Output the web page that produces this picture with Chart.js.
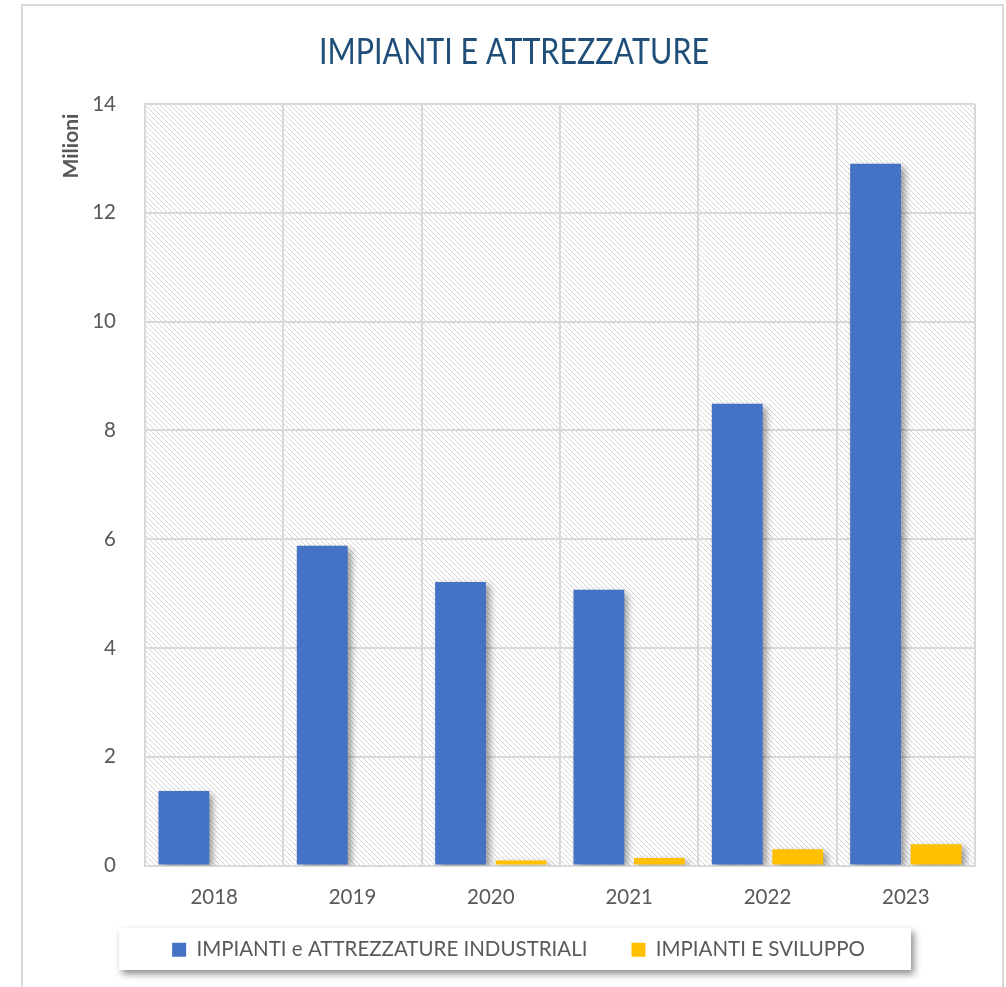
<!DOCTYPE html>
<html>
<head>
<meta charset="utf-8">
<script src="https://cdn.jsdelivr.net/npm/chart.js@4.4.1/dist/chart.umd.min.js"></script>
<style>
  html, body { margin: 0; padding: 0; background: #ffffff; }
  #wrap { position: relative; width: 1006px; height: 987px; overflow: hidden; }
  #frame { position: absolute; left: 21px; top: 4px; width: 983px; height: 1000px; border: 2px solid #d9d9d9; box-sizing: border-box; }
  #c { position: absolute; left: 0; top: 0; }
</style>
</head>
<body>
<div id="wrap">
  <div id="frame"></div>
  <canvas id="c" width="1006" height="987"></canvas>
</div>
<script>
const years = ['2018', '2019', '2020', '2021', '2022', '2023'];
const industriali = [1.37, 5.88, 5.21, 5.07, 8.49, 12.9];
const sviluppo = [0.02, 0.0, 0.09, 0.14, 0.3, 0.39];
const yTicks = [0, 2, 4, 6, 8, 10, 12, 14];
const chartTitle = 'IMPIANTI E ATTREZZATURE';
const unitLabel = 'Milioni';

const FONT = 'Lato, "Open Sans", sans-serif';
const TEXT = '#595959';

// light downward-diagonal hatch for the plot area
function makeHatch(ctx) {
  const p = document.createElement('canvas');
  p.width = 5; p.height = 5;
  const g = p.getContext('2d');
  g.fillStyle = '#ffffff';
  g.fillRect(0, 0, 5, 5);
  g.fillStyle = '#d6d6d6';
  for (let i = 0; i < 5; i++) g.fillRect(i, i, 1, 1);
  return ctx.createPattern(p, 'repeat');
}

const decor = {
  id: 'decor',
  afterLayout(chart) {
    // pull the legend row up so it sits tight under the year labels
    const lg = chart.legend;
    if (lg) { lg.top -= 15; lg.bottom -= 15; }
  },
  beforeDraw(chart) {
    const { ctx, chartArea: a } = chart;
    ctx.save();
    ctx.fillStyle = makeHatch(ctx);
    ctx.fillRect(a.left, a.top, a.right - a.left, a.bottom - a.top);
    // legend panel with soft shadow
    ctx.shadowColor = 'rgba(0,0,0,0.45)';
    ctx.shadowBlur = 7;
    ctx.shadowOffsetX = 3;
    ctx.shadowOffsetY = 4;
    ctx.fillStyle = '#ffffff';
    ctx.fillRect(119, 928, 792, 42);
    ctx.restore();

    // condensed title, centred over the chart
    ctx.save();
    ctx.translate(514, 64);
    ctx.scale(0.845, 1);
    ctx.font = '36px ' + FONT;
    ctx.fillStyle = '#1f4e79';
    ctx.textAlign = 'center';
    ctx.textBaseline = 'alphabetic';
    ctx.fillText(chartTitle, 0, 0);
    ctx.restore();
  },
  beforeDatasetsDraw(chart) {
    const ctx = chart.ctx;
    ctx.save();
    ctx.shadowColor = 'rgba(0,0,0,0.4)';
    ctx.shadowBlur = 7;
    ctx.shadowOffsetX = 4;
    ctx.shadowOffsetY = 3;
  },
  afterDatasetsDraw(chart) {
    chart.ctx.restore();
    // display-units label of the value axis
    const ctx = chart.ctx;
    ctx.save();
    ctx.translate(71, 146);
    ctx.rotate(-Math.PI / 2);
    ctx.font = 'bold 21px ' + FONT;
    ctx.fillStyle = TEXT;
    ctx.textAlign = 'center';
    ctx.textBaseline = 'middle';
    ctx.fillText(unitLabel, 0, 0);
    ctx.restore();
  }
};

new Chart(document.getElementById('c'), {
  type: 'bar',
  data: {
    labels: years,
    datasets: [
      { label: 'IMPIANTI e ATTREZZATURE INDUSTRIALI', data: industriali, backgroundColor: '#4472c4' },
      { label: 'IMPIANTI E SVILUPPO', data: sviluppo, backgroundColor: '#ffc000' }
    ]
  },
  options: {
    responsive: false,
    animation: false,
    devicePixelRatio: 1,
    layout: { padding: { left: 62, right: 31, top: 104, bottom: 2 } },
    datasets: { bar: { categoryPercentage: 0.875, barPercentage: 0.84 } },
    plugins: {
      title: { display: false },
      legend: {
        position: 'bottom',
        labels: {
          color: TEXT,
          font: { family: FONT, size: 20.5 },
          boxWidth: 14,
          boxHeight: 14,
          padding: 44
        }
      },
      tooltip: { enabled: false }
    },
    scales: {
      x: {
        afterFit(scale) { scale.height = 45; },
        grid: { color: '#d9d9d9', lineWidth: 2, drawTicks: false, offset: true },
        border: { color: '#d9d9d9', width: 2 },
        ticks: { color: TEXT, font: { family: FONT, size: 20.5 }, padding: 20 }
      },
      y: {
        min: 0,
        max: 14,
        afterFit(scale) { scale.width = 83; },
        afterBuildTicks(scale) { scale.ticks = yTicks.map(v => ({ value: v })); },
        grid: { color: '#d9d9d9', lineWidth: 2, drawTicks: false },
        border: { color: '#d9d9d9', width: 2 },
        ticks: { color: TEXT, font: { family: FONT, size: 20.5 }, padding: 29 }
      }
    }
  },
  plugins: [decor]
});
</script>
</body>
</html>
